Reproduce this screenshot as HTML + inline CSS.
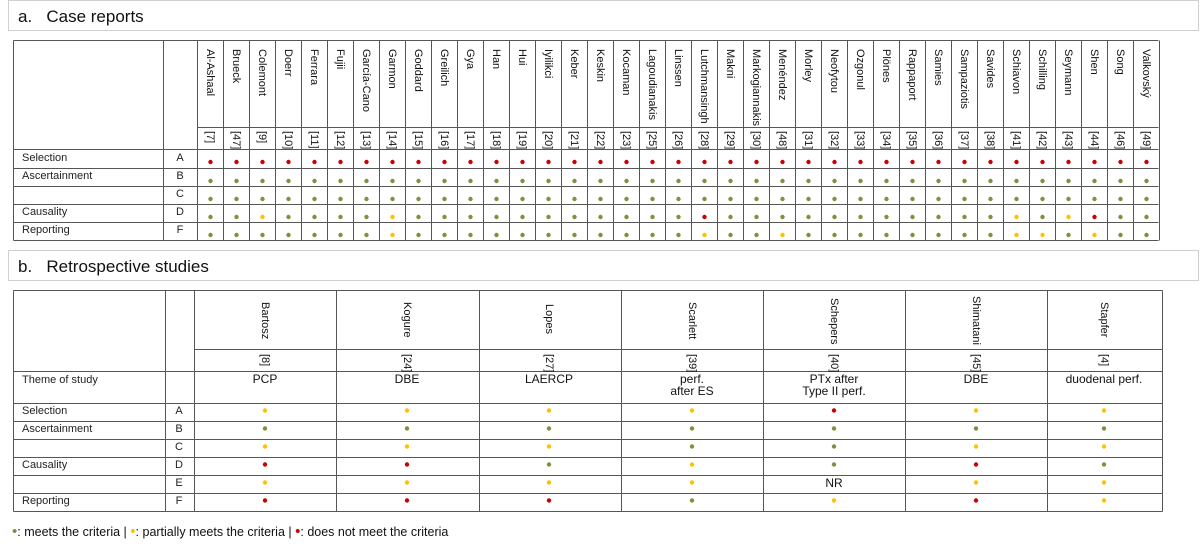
<!DOCTYPE html>
<html><head><meta charset="utf-8"><style>
html,body{margin:0;padding:0;background:#fff;width:1200px;height:544px;overflow:hidden}
svg{display:block;font-family:"Liberation Sans",Arial,sans-serif}
</style></head><body>
<svg id="s" width="1200" height="544" xmlns="http://www.w3.org/2000/svg">
<rect x="8.5" y="0.5" width="1190" height="30" fill="#fff" stroke="#d0d0d0"/>
<text x="18" y="22" font-size="17" fill="#111">a.&#160;&#160; Case reports</text>
<rect x="8.5" y="250.5" width="1190" height="30" fill="#fff" stroke="#d0d0d0"/>
<text x="18" y="272" font-size="17" fill="#111">b.&#160;&#160; Retrospective studies</text>
<g id="lines" stroke="#555" stroke-width="1" fill="none"></g>
<g id="dots"></g>
<g font-size="11" fill="#111" id="namesA">
<text transform="translate(210,49) rotate(90)" dominant-baseline="central">Al-Ashaal</text>
<text transform="translate(236,49) rotate(90)" dominant-baseline="central">Brueck</text>
<text transform="translate(262,49) rotate(90)" dominant-baseline="central">Colemont</text>
<text transform="translate(288,49) rotate(90)" dominant-baseline="central">Doerr</text>
<text transform="translate(314,49) rotate(90)" dominant-baseline="central">Ferrara</text>
<text transform="translate(340,49) rotate(90)" dominant-baseline="central">Fujii</text>
<text transform="translate(366,49) rotate(90)" dominant-baseline="central">García-Cano</text>
<text transform="translate(392,49) rotate(90)" dominant-baseline="central">Garmon</text>
<text transform="translate(418,49) rotate(90)" dominant-baseline="central">Goddard</text>
<text transform="translate(444,49) rotate(90)" dominant-baseline="central">Greilich</text>
<text transform="translate(470,49) rotate(90)" dominant-baseline="central">Gya</text>
<text transform="translate(496,49) rotate(90)" dominant-baseline="central">Han</text>
<text transform="translate(522,49) rotate(90)" dominant-baseline="central">Hui</text>
<text transform="translate(548,49) rotate(90)" dominant-baseline="central">Iyilikci</text>
<text transform="translate(574,49) rotate(90)" dominant-baseline="central">Keber</text>
<text transform="translate(600,49) rotate(90)" dominant-baseline="central">Keskin</text>
<text transform="translate(626,49) rotate(90)" dominant-baseline="central">Kocaman</text>
<text transform="translate(652,49) rotate(90)" dominant-baseline="central">Lagoudianakis</text>
<text transform="translate(678,49) rotate(90)" dominant-baseline="central">Linssen</text>
<text transform="translate(704,49) rotate(90)" dominant-baseline="central">Lutchmansingh</text>
<text transform="translate(730,49) rotate(90)" dominant-baseline="central">Makni</text>
<text transform="translate(756,49) rotate(90)" dominant-baseline="central">Markogiannakis</text>
<text transform="translate(782,49) rotate(90)" dominant-baseline="central">Menéndez</text>
<text transform="translate(808,49) rotate(90)" dominant-baseline="central">Morley</text>
<text transform="translate(834,49) rotate(90)" dominant-baseline="central">Neofytou</text>
<text transform="translate(860,49) rotate(90)" dominant-baseline="central">Ozgonul</text>
<text transform="translate(886,49) rotate(90)" dominant-baseline="central">Plönes</text>
<text transform="translate(912,49) rotate(90)" dominant-baseline="central">Rappaport</text>
<text transform="translate(938,49) rotate(90)" dominant-baseline="central">Samies</text>
<text transform="translate(964,49) rotate(90)" dominant-baseline="central">Sampaziotis</text>
<text transform="translate(990,49) rotate(90)" dominant-baseline="central">Savides</text>
<text transform="translate(1016,49) rotate(90)" dominant-baseline="central">Schiavon</text>
<text transform="translate(1042,49) rotate(90)" dominant-baseline="central">Schilling</text>
<text transform="translate(1068,49) rotate(90)" dominant-baseline="central">Seymann</text>
<text transform="translate(1094,49) rotate(90)" dominant-baseline="central">Shen</text>
<text transform="translate(1120,49) rotate(90)" dominant-baseline="central">Song</text>
<text transform="translate(1146,49) rotate(90)" dominant-baseline="central">Valkovský</text>
</g>
<g font-size="11" fill="#111">
<text transform="translate(210,131) rotate(90)" dominant-baseline="central">[7]</text>
<text transform="translate(236,131) rotate(90)" dominant-baseline="central">[47]</text>
<text transform="translate(262,131) rotate(90)" dominant-baseline="central">[9]</text>
<text transform="translate(288,131) rotate(90)" dominant-baseline="central">[10]</text>
<text transform="translate(314,131) rotate(90)" dominant-baseline="central">[11]</text>
<text transform="translate(340,131) rotate(90)" dominant-baseline="central">[12]</text>
<text transform="translate(366,131) rotate(90)" dominant-baseline="central">[13]</text>
<text transform="translate(392,131) rotate(90)" dominant-baseline="central">[14]</text>
<text transform="translate(418,131) rotate(90)" dominant-baseline="central">[15]</text>
<text transform="translate(444,131) rotate(90)" dominant-baseline="central">[16]</text>
<text transform="translate(470,131) rotate(90)" dominant-baseline="central">[17]</text>
<text transform="translate(496,131) rotate(90)" dominant-baseline="central">[18]</text>
<text transform="translate(522,131) rotate(90)" dominant-baseline="central">[19]</text>
<text transform="translate(548,131) rotate(90)" dominant-baseline="central">[20]</text>
<text transform="translate(574,131) rotate(90)" dominant-baseline="central">[21]</text>
<text transform="translate(600,131) rotate(90)" dominant-baseline="central">[22]</text>
<text transform="translate(626,131) rotate(90)" dominant-baseline="central">[23]</text>
<text transform="translate(652,131) rotate(90)" dominant-baseline="central">[25]</text>
<text transform="translate(678,131) rotate(90)" dominant-baseline="central">[26]</text>
<text transform="translate(704,131) rotate(90)" dominant-baseline="central">[28]</text>
<text transform="translate(730,131) rotate(90)" dominant-baseline="central">[29]</text>
<text transform="translate(756,131) rotate(90)" dominant-baseline="central">[30]</text>
<text transform="translate(782,131) rotate(90)" dominant-baseline="central">[48]</text>
<text transform="translate(808,131) rotate(90)" dominant-baseline="central">[31]</text>
<text transform="translate(834,131) rotate(90)" dominant-baseline="central">[32]</text>
<text transform="translate(860,131) rotate(90)" dominant-baseline="central">[33]</text>
<text transform="translate(886,131) rotate(90)" dominant-baseline="central">[34]</text>
<text transform="translate(912,131) rotate(90)" dominant-baseline="central">[35]</text>
<text transform="translate(938,131) rotate(90)" dominant-baseline="central">[36]</text>
<text transform="translate(964,131) rotate(90)" dominant-baseline="central">[37]</text>
<text transform="translate(990,131) rotate(90)" dominant-baseline="central">[38]</text>
<text transform="translate(1016,131) rotate(90)" dominant-baseline="central">[41]</text>
<text transform="translate(1042,131) rotate(90)" dominant-baseline="central">[42]</text>
<text transform="translate(1068,131) rotate(90)" dominant-baseline="central">[43]</text>
<text transform="translate(1094,131) rotate(90)" dominant-baseline="central">[44]</text>
<text transform="translate(1120,131) rotate(90)" dominant-baseline="central">[46]</text>
<text transform="translate(1146,131) rotate(90)" dominant-baseline="central">[49]</text>
</g>
<g font-size="11" fill="#222">
<text x="22" y="161">Selection</text>
<text x="22" y="179">Ascertainment</text>
<text x="22" y="215">Causality</text>
<text x="22" y="233">Reporting</text>
<g text-anchor="middle">
<text x="180" y="161">A</text><text x="180" y="179">B</text><text x="180" y="197">C</text><text x="180" y="215">D</text><text x="180" y="233">F</text>
</g>
</g>
<g font-size="11" fill="#111">
<text transform="translate(265,302) rotate(90)" dominant-baseline="central">Bartosz</text>
<text transform="translate(407,302) rotate(90)" dominant-baseline="central">Kogure</text>
<text transform="translate(549,304) rotate(90)" dominant-baseline="central">Lopes</text>
<text transform="translate(692,302) rotate(90)" dominant-baseline="central">Scarlett</text>
<text transform="translate(834,298) rotate(90)" dominant-baseline="central">Schepers</text>
<text transform="translate(976,296) rotate(90)" dominant-baseline="central">Shimatani</text>
<text transform="translate(1104,302) rotate(90)" dominant-baseline="central">Stapfer</text>
<text transform="translate(265,354) rotate(90)" dominant-baseline="central">[8]</text>
<text transform="translate(407,354) rotate(90)" dominant-baseline="central">[24]</text>
<text transform="translate(549,354) rotate(90)" dominant-baseline="central">[27]</text>
<text transform="translate(692,354) rotate(90)" dominant-baseline="central">[39]</text>
<text transform="translate(834,354) rotate(90)" dominant-baseline="central">[40]</text>
<text transform="translate(976,354) rotate(90)" dominant-baseline="central">[45]</text>
<text transform="translate(1104,354) rotate(90)" dominant-baseline="central">[4]</text>
</g>
<g font-size="12" fill="#111" text-anchor="middle">
<text x="265" y="383">PCP</text>
<text x="407" y="383">DBE</text>
<text x="549" y="383">LAERCP</text>
<text x="692" y="383">perf.</text><text x="692" y="395">after ES</text>
<text x="834" y="383">PTx after</text><text x="834" y="395">Type II perf.</text>
<text x="976" y="383">DBE</text>
<text x="1104" y="383">duodenal perf.</text>
<text x="834" y="487">NR</text>
</g>
<g font-size="11" fill="#222">
<text x="22" y="383">Theme of study</text>
<text x="22" y="414">Selection</text>
<text x="22" y="432">Ascertainment</text>
<text x="22" y="468">Causality</text>
<text x="22" y="504">Reporting</text>
<g text-anchor="middle">
<text x="179" y="414">A</text><text x="179" y="432">B</text><text x="179" y="450">C</text><text x="179" y="468">D</text><text x="179" y="486">E</text><text x="179" y="504">F</text>
</g>
</g>
<text x="12" y="536" font-size="12.5" fill="#111"><tspan fill="#77933c" font-size="15">•</tspan>: meets the criteria | <tspan fill="#ffc000" font-size="15">•</tspan>: partially meets the criteria | <tspan fill="#cc0000" font-size="15">•</tspan>: does not meet the criteria</text>
</svg>
<script>
(function(){
var NS="http://www.w3.org/2000/svg",L=document.getElementById('lines'),D=document.getElementById('dots');
function ln(x1,y1,x2,y2){var e=document.createElementNS(NS,'line');e.setAttribute('x1',x1);e.setAttribute('y1',y1);e.setAttribute('x2',x2);e.setAttribute('y2',y2);L.appendChild(e);}
function dot(x,y,c){var e=document.createElementNS(NS,'circle');e.setAttribute('cx',x);e.setAttribute('cy',y);e.setAttribute('r',2.2);e.setAttribute('fill',c);D.appendChild(e);}
var R='#cc0000',G='#77933c',Y='#ffc000';
var x0=13.5,x1=163.5,x2=197.5,xr=1158.5,w=26;
var ys=[40.5,127.5,149.5,168.5,186.5,204.5,222.5,240.5];
ln(x0,40.5,xr,40.5);ln(x0,240.5,xr,240.5);
ln(x0,40.5,x0,240.5);ln(x1,40.5,x1,240.5);
for(var i=0;i<=37;i++){var x=x2+i*w;ln(x,40.5,x,240.5);}
ln(x2,127.5,xr,127.5);
for(var k=2;k<7;k++)ln(x0,ys[k],xr,ys[k]);
var rows=[{},{},{},{2:Y,7:Y,19:R,31:Y,33:Y,34:R},{7:Y,19:Y,22:Y,31:Y,32:Y,34:Y}];
var base=[R,G,G,G,G];
for(var r=0;r<5;r++){for(var i=0;i<37;i++){var c=rows[r][i]||base[r];dot(x2+i*w+13,ys[r+2]+12.5,c);}}
var bx=[13.5,165.5,194.5,336.5,479.5,621.5,763.5,905.5,1047.5,1162.5];
var by=[290.5,349.5,371.5,403.5,421.5,439.5,457.5,475.5,493.5,511.5];
ln(13.5,290.5,1162.5,290.5);ln(13.5,511.5,1162.5,511.5);
bx.forEach(function(x){ln(x,290.5,x,511.5);});
ln(194.5,349.5,1162.5,349.5);
for(var k=2;k<9;k++)ln(13.5,by[k],1162.5,by[k]);
var cx=[265,407,549,692,834,976,1104];
var data=[[Y,G,Y,R,Y,R],[Y,G,Y,R,Y,R],[Y,G,Y,G,Y,R],[Y,G,G,Y,Y,G],[R,G,G,G,null,Y],[Y,G,Y,R,Y,R],[Y,G,Y,G,Y,Y]];
for(var c=0;c<7;c++)for(var r=0;r<6;r++){if(data[c][r])dot(cx[c],by[r+3]+7,data[c][r]);}
})();
</script>
</body></html>
